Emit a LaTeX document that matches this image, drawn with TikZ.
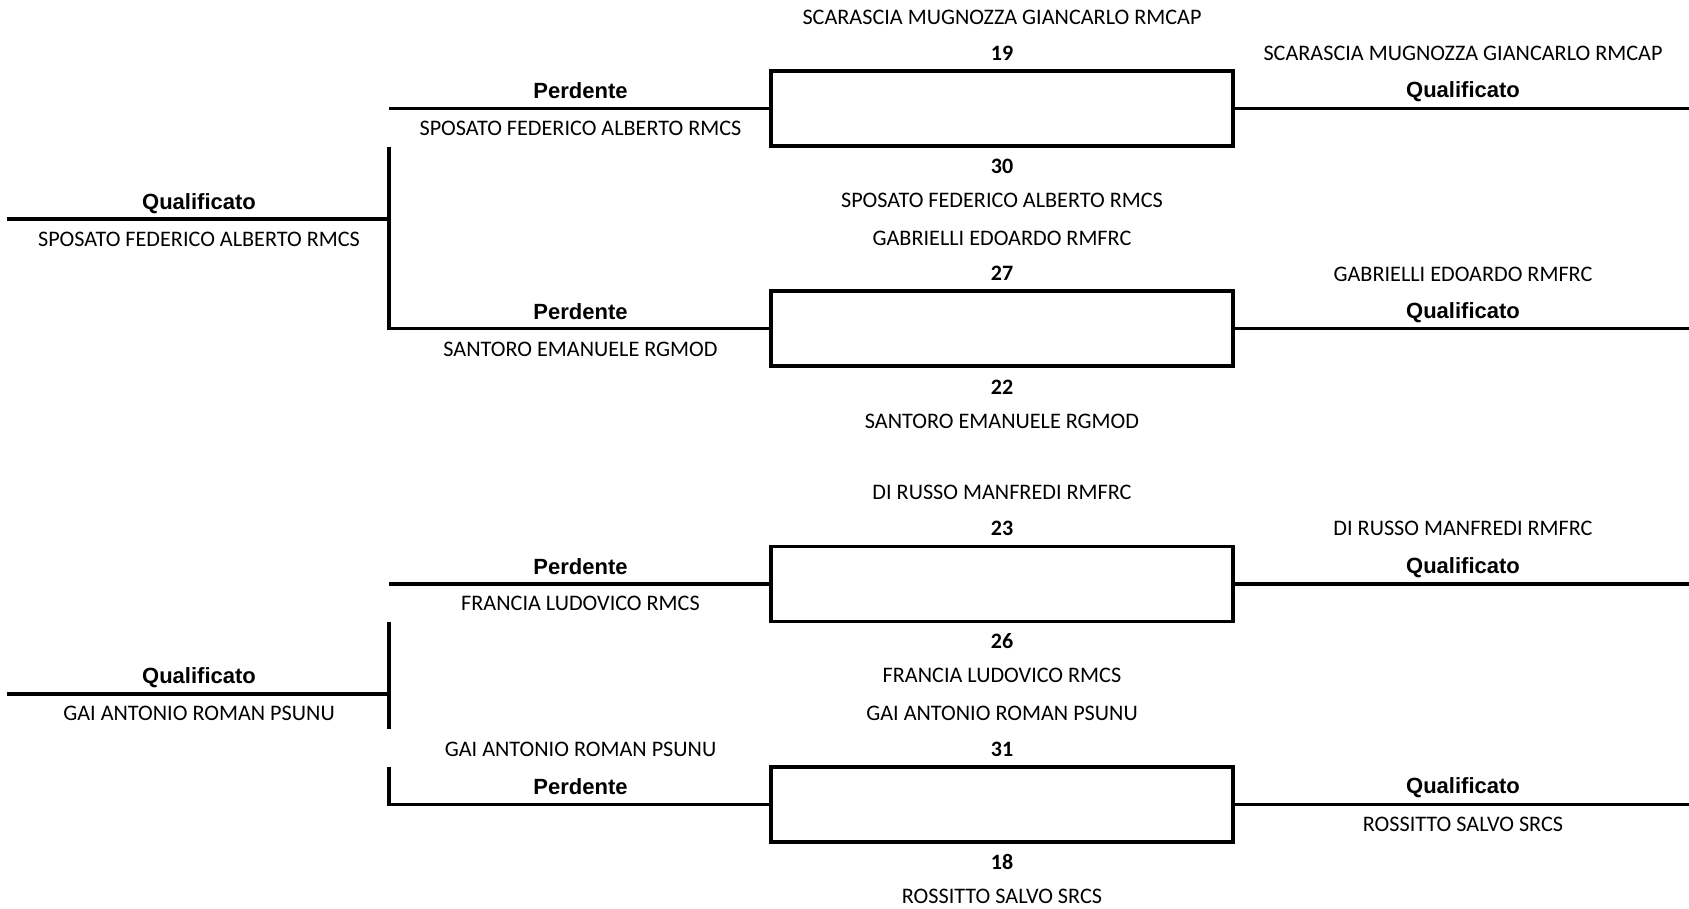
\documentclass[tikz,border=0pt]{standalone}
\usepackage{fontspec}
\setmainfont{Carlito}
\newfontfamily\headfont{Liberation Sans}
\usepackage{tikz}
\usetikzlibrary{calc}
\tikzset{
	matchbox/.style={draw, line width=3.2pt, minimum width=462pt, minimum height=75pt, inner sep=0pt, outer sep=0pt},
	bracket/.style={line width=3.2pt},
	player/.style={font=\fontsize{22.2}{26}\selectfont, inner sep=0pt},
	score/.style={font=\fontsize{22}{26}\selectfont\bfseries, inner sep=0pt},
	outcome/.style={font=\headfont\bfseries\fontsize{22}{26}\selectfont, inner sep=0pt}
}

\begin{document}
\begin{tikzpicture}[x=1pt, y=-1pt]
		%%%%% START %%%%%
		\useasboundingbox (0,0) rectangle (1689,908);
		
		\node[matchbox] (m1) at (1002, 108.5) {};
		\node[matchbox] (m2) at (1002, 328.5) {};
		\node[matchbox] (m3) at (1002, 584) {};
		\node[matchbox] (m4) at (1002, 804.5) {};
		
		\node[player] (n1t) at (1002, 17.5) {SCARASCIA MUGNOZZA GIANCARLO RMCAP};
		\node[score] (s1t) at (1002, 53) {19};
		\node[score] (s1b) at (1002, 166) {30};
		\node[player] (n1b) at (1002, 200.5) {SPOSATO FEDERICO ALBERTO RMCS};
		
		\node[player] (n2t) at (1002, 238.5) {GABRIELLI EDOARDO RMFRC};
		\node[score] (s2t) at (1002, 273.5) {27};
		\node[score] (s2b) at (1002, 387) {22};
		\node[player] (n2b) at (1002, 421.5) {SANTORO EMANUELE RGMOD};
		
		\node[player] (n3t) at (1002, 492.5) {DI RUSSO MANFREDI RMFRC};
		\node[score] (s3t) at (1002, 528) {23};
		\node[score] (s3b) at (1002, 641) {26};
		\node[player] (n3b) at (1002, 675.5) {FRANCIA LUDOVICO RMCS};
		
		\node[player] (n4t) at (1002, 713.5) {GAI ANTONIO ROMAN PSUNU};
		\node[score] (s4t) at (1002, 749) {31};
		\node[score] (s4b) at (1002, 862) {18};
		\node[player] (n4b) at (1002, 896.5) {ROSSITTO SALVO SRCS};
		
		%%%%% RIGHT %%%%%
		\coordinate (r1) at (1689, 108.5);
		\coordinate (r2) at (1689, 328.5);
		\coordinate (r3) at (1689, 584);
		\coordinate (r4) at (1689, 804.5);
		\draw[bracket] (m1.east) -- (r1);
		\draw[bracket] (m2.east) -- (r2);
		\draw[bracket] (m3.east) -- (r3);
		\draw[bracket] (m4.east) -- (r4);
		
		\node[player] (w1n) at (1463, 53.5) {SCARASCIA MUGNOZZA GIANCARLO RMCAP};
		\node[outcome] (w1q) at (1463, 92) {Qualificato};
		\node[player] (w2n) at (1463, 274) {GABRIELLI EDOARDO RMFRC};
		\node[outcome] (w2q) at (1463, 313) {Qualificato};
		\node[player] (w3n) at (1463, 528.5) {DI RUSSO MANFREDI RMFRC};
		\node[outcome] (w3q) at (1463, 568) {Qualificato};
		\node[outcome] (w4q) at (1463, 788) {Qualificato};
		\node[player] (w4n) at (1463, 824.5) {ROSSITTO SALVO SRCS};
		
		%%%%% LEFT %%%%%
		\coordinate (p1) at (389, 108.5);
		\coordinate (p2) at (389, 328.5);
		\coordinate (p3) at (389, 584);
		\coordinate (p4) at (389, 804.5);
		\coordinate (v1) at (389, 147);
		\coordinate (v3) at (389, 621.5);
		\coordinate (v3b) at (389, 729);
		\coordinate (v4) at (389, 767);
		\draw[bracket] (p1) -- (m1.west);
		\draw[bracket] (v1) -- (p2) -- (m2.west);
		\draw[bracket] (p3) -- (m3.west);
		\draw[bracket] (v3) -- (v3b);
		\draw[bracket] (v4) -- (p4) -- (m4.west);
		
		\node[outcome] (l1p) at (580.5, 90.5) {Perdente};
		\node[player] (l1n) at (580.5, 128.5) {SPOSATO FEDERICO ALBERTO RMCS};
		\node[outcome] (l2p) at (580.5, 311.5) {Perdente};
		\node[player] (l2n) at (580.5, 349.5) {SANTORO EMANUELE RGMOD};
		\node[outcome] (l3p) at (580.5, 566.5) {Perdente};
		\node[player] (l3n) at (580.5, 603.5) {FRANCIA LUDOVICO RMCS};
		\node[player] (l4n) at (580.5, 749.5) {GAI ANTONIO ROMAN PSUNU};
		\node[outcome] (l4p) at (580.5, 786.5) {Perdente};
		
		%%%%% FINAL %%%%%
		\coordinate (f1) at (7, 219);
		\coordinate (j1) at (389, 219);
		\coordinate (f2) at (7, 694);
		\coordinate (j2) at (389, 694);
		\draw[bracket] (f1) -- (j1);
		\draw[bracket] (f2) -- (j2);
		
		\node[outcome] (f1q) at (199, 203.5) {Qualificato};
		\node[player] (f1n) at (199, 239.5) {SPOSATO FEDERICO ALBERTO RMCS};
		\node[outcome] (f2q) at (199, 678) {Qualificato};
		\node[player] (f2n) at (199, 713.5) {GAI ANTONIO ROMAN PSUNU};
		
		%%%%% END %%%%%
\end{tikzpicture}
\end{document}
